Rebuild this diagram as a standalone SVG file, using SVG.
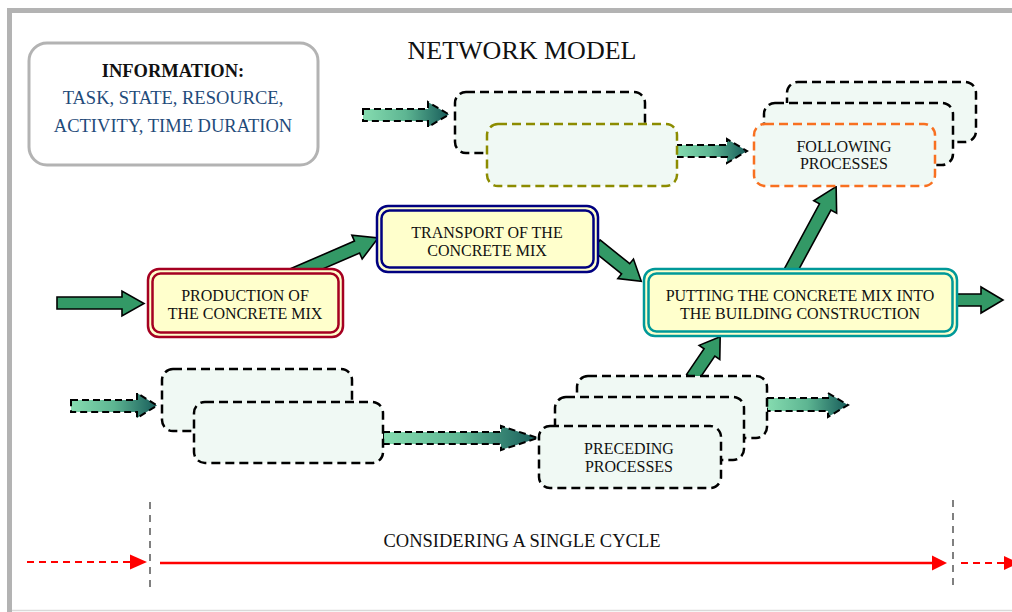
<svg xmlns="http://www.w3.org/2000/svg" width="1012" height="612" viewBox="0 0 1012 612">
<defs>
<linearGradient id="gr" x1="0" y1="0" x2="1" y2="0">
<stop offset="0" stop-color="#86dcb0"/>
<stop offset="0.5" stop-color="#5db592"/>
<stop offset="1" stop-color="#175c5a"/>
</linearGradient>
</defs>
<style>
text{font-family:"Liberation Serif","Times New Roman",serif;fill:#111;text-anchor:middle}
.t16{font-size:16px}
.dbox{fill:#f0f9f4;stroke:#000;stroke-width:2.5;stroke-dasharray:9 5}
.garrow{fill:url(#gr);stroke:#000;stroke-width:2;stroke-dasharray:7 4}
.sarrow{fill:#339966;stroke:#000;stroke-width:1.6;stroke-linejoin:miter}
.yfill{fill:#ffffcc}
</style>
<rect width="1012" height="612" fill="#fff"/>
<!-- frame -->
<path d="M9.5 612 V10.5 H1012" fill="none" stroke="#b3b3b3" stroke-width="5"/>
<line x1="12" y1="610.5" x2="1012" y2="610.5" stroke="#d9d9d9" stroke-width="1.5"/>

<text x="522" y="59" style="font-size:26px">NETWORK MODEL</text>

<g id="info">
<rect x="29" y="43" width="289" height="122" rx="18" fill="#fff" stroke="#b3b3b3" stroke-width="3"/>
<text x="173" y="77" style="font-size:18.5px;font-weight:bold">INFORMATION:</text>
<text x="173" y="104" style="font-size:18.5px;fill:#1f4b7a">TASK, STATE, RESOURCE,</text>
<text x="173" y="132" style="font-size:18.5px;fill:#1f4b7a">ACTIVITY, TIME DURATION</text>
</g>

<g id="connectors">
<polygon class="garrow" points="363,109 428,109 428,102 449,114.5 428,127 428,121 363,121"/>
<polygon class="garrow" points="675,145 727,145 727,139 747,151 727,163 727,157 675,157"/>
<polygon class="garrow" points="71,400 137,400 137,393 157,405.5 137,418 137,412 71,412"/>
<polygon class="garrow" points="383,432 501,432 501,426 538,438 501,450 501,444 383,444"/>
<polygon class="garrow" points="767,398 828,398 828,393 848,405 828,417 828,411 767,411"/>
<polygon class="sarrow" points="57,297 122,297 122,291 144,303.5 122,316 122,309 57,309"/>
<polygon class="sarrow" points="955,294 981,294 981,287 1003,300 981,313 981,306 955,306"/>
<polygon class="sarrow" transform="translate(290,276) rotate(-23.35)" points="0,-6.5 73,-6.5 73,-13 96,0 73,13 73,6.5 0,6.5"/>
<polygon class="sarrow" transform="translate(596,245) rotate(38.7)" points="0,-6.5 38,-6.5 38,-12.5 58,0 38,12.5 38,6.5 0,6.5"/>
<polygon class="sarrow" transform="translate(790,272) rotate(-61.6)" points="0,-6.5 74,-6.5 74,-13 97,0 74,13 74,6.5 0,6.5"/>
<polygon class="sarrow" transform="translate(692,378) rotate(-55.7)" points="0,-6.5 31,-6.5 31,-12.5 50,0 31,12.5 31,6.5 0,6.5"/>
</g>

<g id="top-process-a"><rect class="dbox" x="455" y="92" width="190" height="61" rx="11"/></g>
<g id="top-process-b"><rect class="dbox" x="487" y="124" width="190" height="62" rx="11" style="stroke:#8c8c00"/></g>

<g id="following-back"><rect class="dbox" x="787" y="82" width="189" height="60" rx="11"/></g>
<g id="following-mid"><rect class="dbox" x="764" y="103" width="189" height="62" rx="11"/></g>
<g id="following">
<rect class="dbox" x="754" y="124" width="181" height="62" rx="11" style="stroke:#f87020"/>
<text class="t16" x="844" y="152">FOLLOWING</text>
<text class="t16" x="844" y="169">PROCESSES</text>
</g>

<g id="production">
<rect class="yfill" x="148" y="269" width="195" height="68" rx="11" stroke="#a50021" stroke-width="2.5"/>
<rect class="yfill" x="152.5" y="273.5" width="186" height="59" rx="8" stroke="#a50021" stroke-width="2.5"/>
<text class="t16" x="245" y="301">PRODUCTION OF</text>
<text class="t16" x="245" y="319">THE CONCRETE MIX</text>
</g>

<g id="transport">
<rect class="yfill" x="377" y="206" width="221" height="66" rx="11" stroke="#000080" stroke-width="2.5"/>
<rect class="yfill" x="381.5" y="210.5" width="212" height="57" rx="8" stroke="#000080" stroke-width="2.5"/>
<text class="t16" x="487" y="238">TRANSPORT OF THE</text>
<text class="t16" x="487" y="256">CONCRETE MIX</text>
</g>

<g id="putting">
<rect class="yfill" x="644" y="269" width="313" height="67" rx="11" stroke="#009999" stroke-width="2.5"/>
<rect class="yfill" x="648.5" y="273.5" width="304" height="58" rx="8" stroke="#009999" stroke-width="2.5"/>
<text class="t16" x="800" y="301">PUTTING THE CONCRETE MIX INTO</text>
<text class="t16" x="800" y="319">THE BUILDING CONSTRUCTION</text>
</g>

<g id="bottom-process-c"><rect class="dbox" x="162" y="369" width="190" height="62" rx="11"/></g>
<g id="bottom-process-d"><rect class="dbox" x="194" y="402" width="189" height="61" rx="11"/></g>

<g id="preceding-back"><rect class="dbox" x="577" y="376" width="190" height="62" rx="11"/></g>
<g id="preceding-mid"><rect class="dbox" x="555" y="397" width="189" height="63" rx="11"/></g>
<g id="preceding">
<rect class="dbox" x="539" y="426" width="182" height="62" rx="11"/>
<text class="t16" x="629" y="454">PRECEDING</text>
<text class="t16" x="629" y="472">PROCESSES</text>
</g>

<g id="timeline">
<line x1="150" y1="502" x2="150" y2="592" stroke="#808080" stroke-width="2" stroke-dasharray="7 6"/>
<line x1="953" y1="500" x2="953" y2="590" stroke="#808080" stroke-width="2" stroke-dasharray="7 6"/>
<line x1="27" y1="562" x2="131" y2="562" stroke="#ff0000" stroke-width="2" stroke-dasharray="7 5"/>
<polygon points="130,554.5 147,562 130,569.5" fill="#ff0000"/>
<line x1="160" y1="563" x2="933" y2="563" stroke="#ff0000" stroke-width="2.5"/>
<polygon points="932,555.5 947,563 932,570.5" fill="#ff0000"/>
<line x1="961" y1="563" x2="1004" y2="563" stroke="#ff0000" stroke-width="2" stroke-dasharray="7 5"/>
<polygon points="1004,556 1019,563 1004,570" fill="#ff0000"/>
<text x="522" y="547" style="font-size:18.5px">CONSIDERING A SINGLE CYCLE</text>
</g>
</svg>
